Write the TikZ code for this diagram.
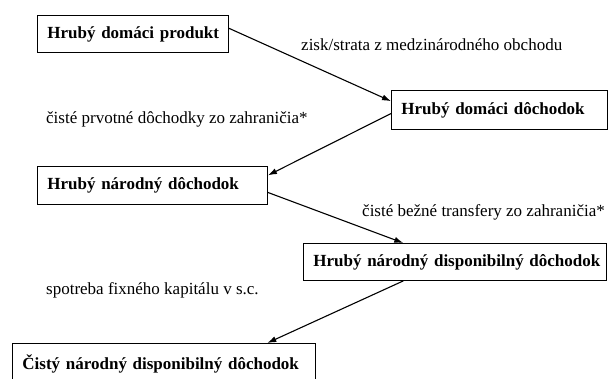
\documentclass[tikz,border=0pt]{standalone}
\usepackage{fontspec}
\setmainfont{Liberation Serif}
\usepackage{tikz}
\usetikzlibrary{arrows.meta,calc,positioning}

\begin{document}
\begin{tikzpicture}[x=1pt, y=-1pt,
    box/.style={rectangle, draw, line width=0.9pt, anchor=north west, inner xsep=10pt, inner ysep=0pt, align=left, font=\fontsize{17}{20}\selectfont\bfseries},
    lbl/.style={anchor=west, inner sep=0pt, font=\fontsize{17}{20}\selectfont},
    arrow/.style={-{Latex[length=9pt,width=6pt]}, line width=1.1pt}
]
\useasboundingbox (0,0) rectangle (610,378);

% Boxes
\node[box, minimum width=191pt, minimum height=37pt, text width=171pt] (gdp) at (37,15) {\mbox{Hrubý domáci produkt}};
\node[box, minimum width=216pt, minimum height=39pt, text width=196pt] (gdi) at (391,90) {\mbox{Hrubý domáci dôchodok}};
\node[box, minimum width=230pt, minimum height=38pt, text width=210pt] (gni) at (37,166) {\mbox{Hrubý národný dôchodok}};
\node[box, minimum width=303pt, minimum height=37pt, text width=283pt] (gndi) at (303,243) {\mbox{Hrubý národný disponibilný dôchodok}};
\node[box, minimum width=303pt, minimum height=40pt, text width=283pt] (nndi) at (12,343) {\mbox{Čistý národný disponibilný dôchodok}};

% Labels
\node[lbl] (trade) at (301,45) {zisk/strata z medzinárodného obchodu};
\node[lbl] (primary) at (46,119) {čisté prvotné dôchodky zo zahraničia*};
\node[lbl] (transfers) at (362,212) {čisté bežné transfery zo zahraničia*};
\node[lbl] (capital) at (46,290) {spotreba fixného kapitálu v s.c.};

% Arrows
\draw[arrow] ($(gdp.north east)!0.35!(gdp.south east)$) -- ($(gdi.north west)!0.28!(gdi.south west)$);
\draw[arrow] ($(gdi.north west)!0.59!(gdi.south west)$) -- ($(gni.north east)!0.24!(gni.south east)$);
\draw[arrow] ($(gni.north east)!0.68!(gni.south east)$) -- ($(gndi.north west)!0.33!(gndi.north east)$);
\draw[arrow] ($(gndi.south west)!0.33!(gndi.south east)$) -- ($(nndi.north west)!0.84!(nndi.north east)$);

\end{tikzpicture}
\end{document}
